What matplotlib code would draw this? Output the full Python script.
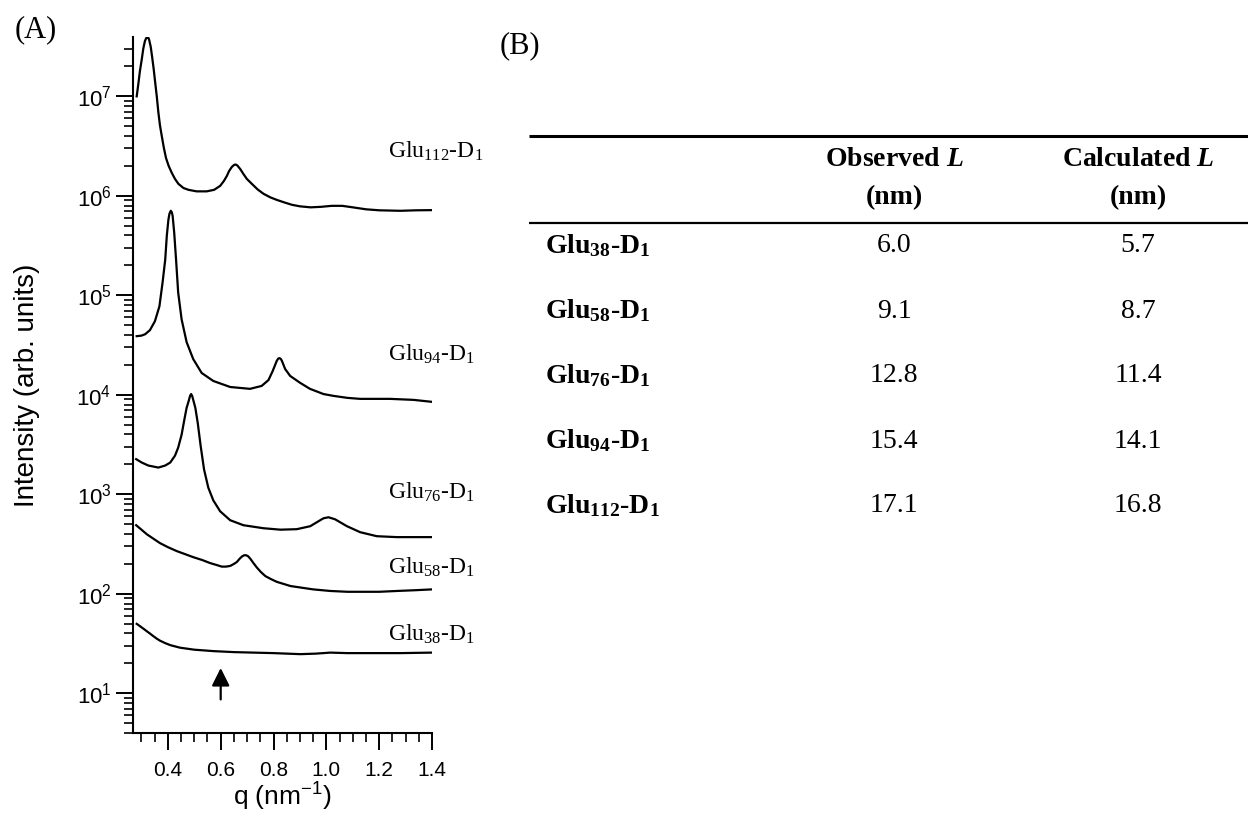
import matplotlib
matplotlib.use('Agg')
import matplotlib.pyplot as plt
from matplotlib.ticker import MultipleLocator, LogLocator, NullFormatter

plt.rcParams['font.family'] = ['Liberation Sans', 'DejaVu Sans']
plt.rcParams['mathtext.fontset'] = 'custom'
plt.rcParams['mathtext.rm'] = 'Liberation Serif'
plt.rcParams['mathtext.it'] = 'Liberation Serif:italic:bold'
plt.rcParams['mathtext.bf'] = 'Liberation Serif:bold'
plt.rcParams['mathtext.default'] = 'regular'

# ---- data ----
q112 = [0.282, 0.288, 0.294, 0.301, 0.307, 0.313, 0.318, 0.322, 0.326, 0.329, 0.335, 0.340,
        0.346, 0.352, 0.358, 0.364, 0.370, 0.377, 0.385, 0.393, 0.403, 0.415, 0.427, 0.440,
        0.459, 0.478, 0.509, 0.547, 0.575, 0.598, 0.612, 0.623, 0.632, 0.642, 0.650, 0.656,
        0.663, 0.674, 0.686, 0.699, 0.718, 0.740, 0.762, 0.788, 0.812, 0.840, 0.870, 0.900,
        0.940, 0.980, 1.020, 1.060, 1.100, 1.150, 1.200, 1.280, 1.340, 1.400]
I112 = [1.00e7, 1.32e7, 1.78e7, 2.34e7, 3.02e7, 3.59e7, 3.85e7, 3.94e7, 3.89e7, 3.72e7, 3.16e7, 2.54e7,
        1.91e7, 1.38e7, 1.00e7, 6.92e6, 5.13e6, 3.98e6, 3.02e6, 2.40e6, 2.00e6, 1.70e6, 1.48e6, 1.32e6,
        1.20e6, 1.15e6, 1.11e6, 1.11e6, 1.15e6, 1.26e6, 1.41e6, 1.58e6, 1.78e6, 1.95e6, 2.04e6, 2.07e6,
        2.02e6, 1.86e6, 1.66e6, 1.48e6, 1.32e6, 1.16e6, 1.05e6, 9.66e5, 9.12e5, 8.61e5, 8.13e5, 7.85e5,
        7.67e5, 7.76e5, 7.94e5, 7.94e5, 7.67e5, 7.33e5, 7.16e5, 7.08e5, 7.16e5, 7.19e5]

q94 = [0.282, 0.300, 0.314, 0.332, 0.351, 0.368, 0.380, 0.390, 0.396, 0.402, 0.406, 0.411,
       0.415, 0.418, 0.424, 0.431, 0.439, 0.452, 0.471, 0.496, 0.528, 0.572, 0.636, 0.711,
       0.755, 0.781, 0.797, 0.812, 0.818, 0.823, 0.828, 0.832, 0.844, 0.863, 0.901, 0.938,
       0.989, 1.027, 1.080, 1.128, 1.241, 1.330, 1.400]
I94 = [3.89e4, 3.94e4, 4.07e4, 4.47e4, 5.50e4, 7.76e4, 1.35e5, 2.29e5, 3.98e5, 5.75e5, 6.61e5, 7.08e5,
       6.84e5, 6.31e5, 4.27e5, 2.29e5, 1.07e5, 5.75e4, 3.39e4, 2.29e4, 1.66e4, 1.38e4, 1.20e4, 1.15e4,
       1.23e4, 1.41e4, 1.74e4, 2.19e4, 2.32e4, 2.34e4, 2.29e4, 2.19e4, 1.82e4, 1.55e4, 1.32e4, 1.15e4,
       1.02e4, 9.77e3, 9.33e3, 9.12e3, 9.12e3, 8.91e3, 8.51e3]

q76 = [0.280, 0.301, 0.326, 0.364, 0.390, 0.409, 0.427, 0.439, 0.452, 0.463, 0.471, 0.479,
       0.484, 0.488, 0.492, 0.497, 0.504, 0.513, 0.524, 0.537, 0.553, 0.572, 0.598, 0.636,
       0.686, 0.762, 0.826, 0.888, 0.939, 0.964, 0.989, 1.008, 1.033, 1.078, 1.128, 1.191,
       1.267, 1.400]
I76 = [2.26e3, 2.09e3, 1.95e3, 1.86e3, 1.95e3, 2.09e3, 2.45e3, 2.95e3, 3.98e3, 5.75e3, 7.41e3, 8.71e3,
       9.77e3, 1.02e4, 9.77e3, 8.71e3, 7.41e3, 5.25e3, 3.09e3, 1.78e3, 1.17e3, 871, 676, 550,
       490, 457, 442, 447, 479, 525, 575, 589, 562, 479, 417, 380,
       372, 372]

q58 = [0.280, 0.300, 0.320, 0.345, 0.370, 0.400, 0.434, 0.465, 0.496, 0.530, 0.560, 0.585,
       0.604, 0.620, 0.636, 0.650, 0.661, 0.672, 0.680, 0.688, 0.695, 0.703, 0.712, 0.724,
       0.737, 0.752, 0.769, 0.790, 0.813, 0.864, 0.901, 0.950, 1.015, 1.080, 1.141, 1.200,
       1.267, 1.340, 1.400]
I58 = [490, 442, 398, 359, 324, 295, 269, 251, 234, 219, 204, 195,
       188, 188, 191, 200, 209, 226, 237, 244, 245, 240, 226, 204,
       184, 166, 151, 141, 132, 120, 116, 111, 107, 105, 105, 105,
       107, 109, 111]

q38 = [0.282, 0.292, 0.300, 0.310, 0.320, 0.333, 0.345, 0.358, 0.370, 0.390, 0.410, 0.446,
       0.500, 0.573, 0.650, 0.724, 0.800, 0.902, 0.960, 1.015, 1.080, 1.154, 1.280, 1.400]
I38 = [50.0, 47.9, 46.2, 44.2, 42.2, 39.8, 37.6, 35.5, 33.9, 32.0, 30.5, 28.8,
       27.5, 26.6, 26.0, 25.7, 25.4, 24.8, 25.1, 25.7, 25.4, 25.4, 25.4, 25.7]

curve_names = ['Glu$_{112}$-D$_1$', 'Glu$_{94}$-D$_1$', 'Glu$_{76}$-D$_1$',
               'Glu$_{58}$-D$_1$', 'Glu$_{38}$-D$_1$']
label_y = [2.8e6, 2.56e4, 1.05e3, 186, 39.5]
arrow_q = 0.6

# ---- table data ----
samples = ['Glu$_{38}$-D$_1$', 'Glu$_{58}$-D$_1$', 'Glu$_{76}$-D$_1$',
           'Glu$_{94}$-D$_1$', 'Glu$_{112}$-D$_1$']
observed = [6.0, 9.1, 12.8, 15.4, 17.1]
calculated = [5.7, 8.7, 11.4, 14.1, 16.8]
headers = [('Observed $\\mathit{L}$', '(nm)'), ('Calculated $\\mathit{L}$', '(nm)')]

W, H = 1248, 815
fig = plt.figure(figsize=(W / 100, H / 100), dpi=100)

# table panel drawn in pixel units
tab = fig.add_axes([0, 0, 1, 1])
tab.set_xlim(0, W)
tab.set_ylim(H, 0)
tab.axis('off')

ax = fig.add_axes([133 / W, 1 - 733 / H, 299 / W, 696 / H])

for q, I in [(q112, I112), (q94, I94), (q76, I76), (q58, I58), (q38, I38)]:
    ax.plot(q, I, color='k', lw=1.6, solid_joinstyle='round')

ax.set_yscale('log')
ax.set_xlim(0.268, 1.4)
ax.set_ylim(4.0, 3.95e7)

for name, y in zip(curve_names, label_y):
    ax.text(1.234, y, name, fontsize=17, family=['Liberation Serif'], va='center',
            ha='left', clip_on=False)

ax.annotate('', xy=(arrow_q, 18), xytext=(arrow_q, 8.7),
            arrowprops=dict(arrowstyle='-|>,head_length=0.8,head_width=0.4',
                            mutation_scale=13.5, color='k', lw=1.6,
                            shrinkA=0, shrinkB=0))

for s in ['top', 'right']:
    ax.spines[s].set_visible(False)
for s in ['left', 'bottom']:
    ax.spines[s].set_linewidth(1.5)

ax.xaxis.set_major_locator(MultipleLocator(0.2))
ax.xaxis.set_minor_locator(MultipleLocator(0.05))
ax.yaxis.set_major_locator(LogLocator(base=10, numticks=20))
ax.yaxis.set_minor_locator(LogLocator(base=10, subs=range(2, 10), numticks=20))
ax.yaxis.set_minor_formatter(NullFormatter())
ax.tick_params(which='major', direction='out', length=12.5, width=1.4, labelsize=15)
ax.tick_params(which='minor', direction='out', length=6.5, width=1.2)
ax.tick_params(axis='x', which='major', pad=8)
ax.tick_params(axis='y', which='major', pad=3, labelsize=16)

ax.set_xlabel('q (nm$^{-1}$)', fontsize=19)
ax.xaxis.set_label_coords(0.5, -0.068)
ax.set_ylabel('Intensity (arb. units)', fontsize=20)
ax.yaxis.set_label_coords(-0.31, 0.5)

fig.text(15 / W, 1 - 30 / H, '(A)', fontsize=22, family=['Liberation Serif'], va='center')
fig.text(500 / W, 1 - 46 / H, '(B)', fontsize=22, family=['Liberation Serif'], va='center')

# table rules
tab.plot([529, W], [136, 136], color='k', lw=2.2, solid_capstyle='butt')
tab.plot([529, W], [223, 223], color='k', lw=1.6, solid_capstyle='butt')

col_x = [894, 1138]
for x, (h1, h2) in zip(col_x, headers):
    tab.text(x, 160, h1, fontsize=20, family=['Liberation Serif'], fontweight='bold',
             ha='center', va='center')
    tab.text(x, 198, h2, fontsize=20, family=['Liberation Serif'], fontweight='bold',
             ha='center', va='center')

for i, (name, o, c) in enumerate(zip(samples, observed, calculated)):
    y = 246 + 65 * i
    tab.text(545, y, name, fontsize=20, family=['Liberation Serif'], fontweight='bold',
             ha='left', va='center')
    tab.text(col_x[0], y, f'{o:.1f}', fontsize=20, family=['Liberation Serif'],
             ha='center', va='center')
    tab.text(col_x[1], y, f'{c:.1f}', fontsize=20, family=['Liberation Serif'],
             ha='center', va='center')

fig.savefig('out.png', dpi=100)
